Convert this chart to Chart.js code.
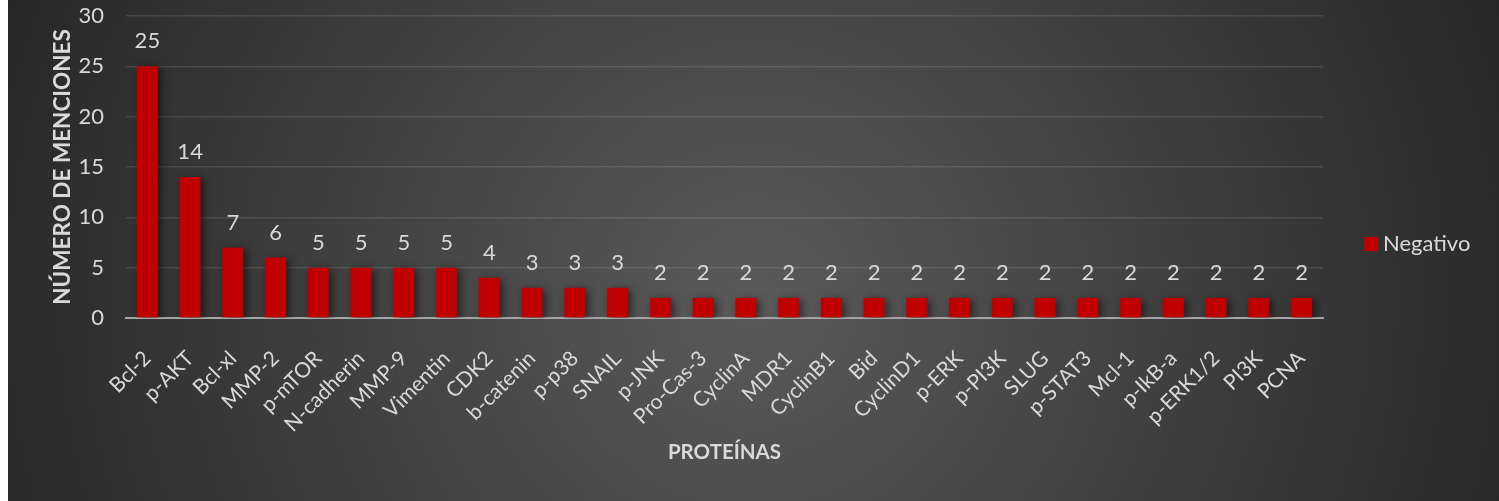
<!DOCTYPE html>
<html>
<head>
<meta charset="utf-8">
<script src="https://cdn.jsdelivr.net/npm/chart.js@4.4.1/dist/chart.umd.min.js"></script>
<style>
  html, body { margin: 0; padding: 0; background: #ffffff; overflow: hidden; }
  #wrap { position: absolute; left: 8px; top: 0; width: 1491px; height: 501px; }
</style>
</head>
<body>
<div id="wrap"><canvas id="c" width="1491" height="501"></canvas></div>
<script>
const categories = ["Bcl-2","p-AKT","Bcl-xl","MMP-2","p-mTOR","N-cadherin","MMP-9","Vimentin","CDK2","b-catenin","p-p38","SNAIL","p-JNK","Pro-Cas-3","CyclinA","MDR1","CyclinB1","Bid","CyclinD1","p-ERK","p-PI3K","SLUG","p-STAT3","Mcl-1","p-IkB-a","p-ERK1/2","PI3K","PCNA"];
const negativo = [25,14,7,6,5,5,5,5,4,3,3,3,2,2,2,2,2,2,2,2,2,2,2,2,2,2,2,2];
const seriesName = "Negativo";
const yTitle = "NÚMERO DE MENCIONES";
const xTitle = "PROTEÍNAS";

const FONT = "Lato, 'Open Sans', sans-serif";
const TXT = "#d9d9d9";
const BAR = "#c00000";

const bgPlugin = {
  id: 'bg',
  beforeDraw(chart) {
    const {ctx, width, height} = chart;
    const g = ctx.createRadialGradient(745, 300, 0, 745, 300, 820);
    g.addColorStop(0, '#5a5a5a');
    g.addColorStop(1, '#262626');
    ctx.save();
    ctx.fillStyle = g;
    ctx.fillRect(0, 0, width, height);
    ctx.restore();
  }
};

const shadowPlugin = {
  id: 'shadow',
  beforeDatasetsDraw(chart) {
    const ctx = chart.ctx;
    ctx.save();
    ctx.shadowColor = 'rgba(0,0,0,0.55)';
    ctx.shadowBlur = 8;
    ctx.shadowOffsetX = 3;
    ctx.shadowOffsetY = 2;
  },
  afterDatasetsDraw(chart) {
    chart.ctx.restore();
  }
};

const labelPlugin = {
  id: 'vals',
  afterDatasetsDraw(chart) {
    const ctx = chart.ctx;
    const meta = chart.getDatasetMeta(0);
    const data = chart.data.datasets[0].data;
    ctx.save();
    ctx.fillStyle = TXT;
    ctx.font = "22px " + FONT;
    ctx.textAlign = 'center';
    ctx.textBaseline = 'middle';
    meta.data.forEach((bar, i) => {
      ctx.fillText(String(data[i]), bar.x, bar.y - 25);
    });
    ctx.restore();
  }
};

const legendPlugin = {
  id: 'lg',
  afterDraw(chart) {
    const ctx = chart.ctx;
    const ds = chart.data.datasets[0];
    ctx.save();
    ctx.fillStyle = ds.backgroundColor;
    ctx.fillRect(1356, 237, 14, 14);
    ctx.fillStyle = TXT;
    ctx.font = "22px " + FONT;
    ctx.textAlign = 'left';
    ctx.textBaseline = 'middle';
    ctx.fillText(ds.label, 1375, 244);
    ctx.restore();
  }
};

new Chart(document.getElementById('c'), {
  type: 'bar',
  data: {
    labels: categories,
    datasets: [{
      label: seriesName,
      data: negativo,
      backgroundColor: BAR,
      borderWidth: 0,
      categoryPercentage: 1.0,
      barPercentage: 0.49
    }]
  },
  plugins: [bgPlugin, shadowPlugin, labelPlugin, legendPlugin],
  options: {
    responsive: false,
    animation: false,
    devicePixelRatio: 1,
    layout: { padding: { left: 0, right: 176, top: 16, bottom: 0 } },
    plugins: { legend: { display: false }, tooltip: { enabled: false } },
    scales: {
      x: {
        grid: { display: false },
        border: { display: true, color: '#a6a6a6', width: 2 },
        ticks: {
          color: TXT,
          font: { family: FONT, size: 21 },
          minRotation: 45,
          maxRotation: 45,
          autoSkip: false,
          padding: 20
        },
        title: {
          display: true,
          text: xTitle,
          color: TXT,
          font: { family: FONT, size: 20.5, weight: 'bold' },
          padding: { top: 0, bottom: 36 }
        },
        afterFit(scale) { scale.height = 183; scale.paddingTop = 0; scale.paddingBottom = 0; scale.paddingLeft = 0; scale.paddingRight = 0; }
      },
      y: {
        min: 0,
        max: 30,
        ticks: {
          stepSize: 5,
          color: TXT,
          font: { family: FONT, size: 22 },
          padding: 22
        },
        grid: { color: 'rgba(255,255,255,0.11)', lineWidth: 1.5, drawTicks: false },
        border: { display: false },
        title: {
          display: true,
          text: yTitle,
          color: TXT,
          font: { family: FONT, size: 22.5, weight: 'bold' },
          padding: { top: 41, bottom: 0 }
        },
        afterFit(scale) { scale.width = 118; scale.paddingTop = 0; scale.paddingBottom = 0; }
      }
    }
  }
});
</script>
</body>
</html>
